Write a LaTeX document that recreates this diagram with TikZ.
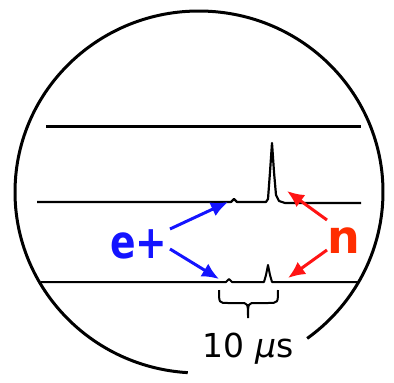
\documentclass[tikz,border=0pt]{standalone}
\usepackage{fontspec}
\setmainfont{DejaVu Sans}
\newfontfamily\djbold{DejaVu Sans Bold}
\newfontfamily\djobl{DejaVu Sans Oblique}
\usetikzlibrary{arrows.meta}
\definecolor{eblue}{RGB}{20,20,255}
\definecolor{nred}{RGB}{255,45,0}
\definecolor{ared}{RGB}{255,20,20}
\tikzset{
  trace/.style={black, line join=round},
  bluearrow/.style={eblue, line width=3pt, -{Latex[length=17pt,width=15pt]}},
  redarrow/.style={ared, line width=3pt, -{Latex[length=17pt,width=15pt]}},
  lbl/.style={inner sep=0pt, anchor=base west},
}
\begin{document}
\begin{tikzpicture}[x=1pt,y=-1pt]
\useasboundingbox (0,0) rectangle (394,383);
% scope circle with gap
\draw[line width=3pt] (199,192) ++(93.5:184 and 181) arc[start angle=93.5, end angle=414, x radius=184, y radius=181];
% traces
\draw[trace, line width=3pt] (46,126) -- (361,126);
\draw[trace, line width=2.2pt] (37,202) -- (231,202) -- (234,199) -- (237,202) -- (266,202)
  -- (268,199) -- (270,172) -- (272,143) -- (274,172) -- (276,195) -- (279,201) -- (285,203) -- (361,203);
\draw[trace, line width=2pt] (41,282) -- (226,282) -- (229,279) -- (232,282) -- (264,282)
  -- (266,275) -- (268,265) -- (270,275) -- (272,282) -- (358,282);
% brace
\draw[line width=2pt] (219,290) .. controls (219,303) .. (228,303) -- (240,303)
  .. controls (248,303) .. (248,318) .. controls (248,303) .. (256,303) -- (268,303)
  .. controls (278,303) .. (278,290);
% labels
\node[lbl, eblue, xscale=0.82] (ep) at (110,258) {\djbold\fontsize{46}{54}\selectfont e+};
\node[lbl, nred] (n) at (327,253) {\djbold\fontsize{46}{54}\selectfont n};
\node[inner sep=0pt, anchor=base] (t) at (248,357) {\fontsize{33}{40}\selectfont 10 {\djobl μ}s};
% connector endpoints
\coordinate (e1) at (170,229);
\coordinate (e2) at (170,249);
\coordinate (m1) at (228,202);
\coordinate (b1) at (219,279);
\coordinate (n1) at (327,220);
\coordinate (n2) at (327,250);
\coordinate (m2) at (287,191);
\coordinate (b2) at (288,278);
\draw[bluearrow] (e1) -- (m1);
\draw[bluearrow] (e2) -- (b1);
\draw[redarrow] (n1) -- (m2);
\draw[redarrow] (n2) -- (b2);
\end{tikzpicture}
\end{document}
